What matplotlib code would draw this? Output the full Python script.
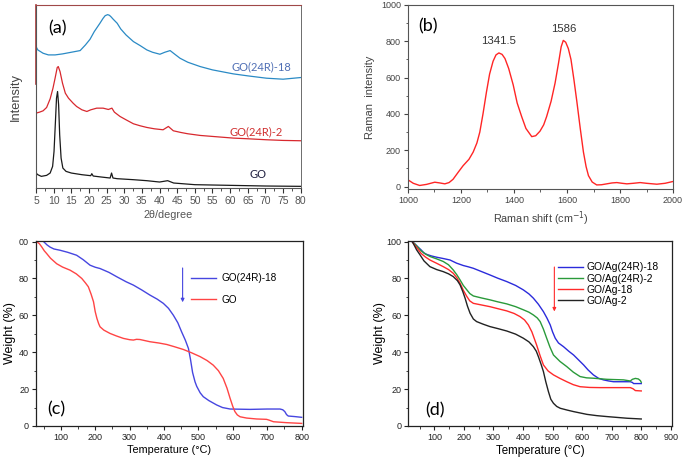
import matplotlib.pyplot as plt
from matplotlib.lines import Line2D
from matplotlib.ticker import MultipleLocator

plt.rcParams['font.family'] = ['Liberation Sans', 'DejaVu Sans']

# (a) XRD
xrd_2theta_go24r18 = [5.0, 5.5, 7, 8.5, 10.4, 12.5, 15, 17.5, 19, 20.3, 21.5, 23.1, 24, 24.6, 25.3, 25.8, 26.3,
                      26.8, 28, 29, 30.5, 32.6, 34.5, 36.4, 38, 40.1, 41.5, 43, 44.2, 45.8, 48, 51.5, 55, 60.9,
                      65, 70.3, 75, 80]
xrd_int_go24r18 = [425, 415, 405, 400, 400, 403, 408, 413, 430, 447, 470, 495, 510, 518, 521, 519, 514,
                   508, 495, 478, 460, 440, 428, 415, 408, 402, 408, 413, 403, 390, 378, 365, 355, 343,
                   337, 330, 327, 332]

xrd_2theta_go24r2 = [5.0, 6, 7, 8, 9, 9.8, 10.4, 11, 11.3, 11.8, 12.5, 13.3, 14.2, 15.5, 16.5, 18, 19.4, 20.5,
                     22.2, 24, 25.5, 26.5, 27.2, 28.8, 30.5, 32.6, 34.5, 36.4, 38.5, 41, 42.5, 43.9, 46, 48,
                     51.5, 55, 60.9, 65, 70.3, 75, 80]
xrd_int_go24r2 = [225, 228, 232, 242, 268, 300, 330, 362, 365, 350, 315, 285, 270, 255, 245, 235, 230, 235,
                  240, 240, 236, 240, 228, 215, 205, 193, 187, 182, 178, 175, 185, 172, 167, 163,
                  158, 155, 150, 148, 145, 143, 142]

xrd_2theta_go = [5.0, 5.5, 6.5, 8, 9, 9.7, 10.1, 10.5, 10.8, 11.1, 11.4, 11.7, 12.1, 12.6, 13.5, 15, 18, 20.5,
                 20.8, 21.2, 23.5, 26, 26.4, 26.8, 28, 32.6, 36.4, 40, 42.3, 44, 50, 60, 70, 80]
xrd_int_go = [45, 40, 35, 38, 45, 65, 110, 200, 270, 290, 250, 160, 90, 60, 50, 45, 40, 37,
              43, 36, 33, 30, 45, 30, 28, 25, 22, 18, 22, 15, 10, 8, 6, 5]

# (b) Raman
raman_shift = [1000, 1020, 1044, 1070, 1101, 1120, 1139, 1155, 1170, 1190, 1208, 1230, 1246, 1260, 1271, 1283,
               1296, 1308, 1321, 1332, 1343, 1355, 1366, 1380, 1397, 1412, 1429, 1445, 1467, 1482, 1498, 1512,
               1523, 1540, 1555, 1568, 1578, 1586, 1595, 1605, 1615, 1626, 1637, 1650, 1662, 1672, 1681, 1695,
               1712, 1730, 1750, 1770, 1788, 1808, 1826, 1850, 1876, 1900, 1939, 1970, 2000]
raman_int = [37, 18, 6, 12, 24, 20, 15, 22, 40, 80, 115, 150, 190, 240, 300, 400,
             520, 620, 690, 725, 736, 728, 705, 650, 560, 460, 385, 320, 275, 280, 305, 340,
             385, 470, 570, 680, 770, 805, 795, 760, 700, 590, 470, 320, 190, 110, 60, 25,
             9, 10, 15, 20, 22, 18, 15, 18, 22, 18, 13, 18, 28]

# (c) TGA
tga_c_temp_go24r18 = [50, 60, 69, 80, 98, 120, 146, 165, 185, 200, 214, 240, 263, 290, 311, 335, 359, 380, 398,
                      413, 427, 440, 451, 462, 471, 477, 483, 490, 495, 505, 514, 530, 553, 570, 592, 650, 700,
                      737, 745, 751, 756, 761, 780, 800]
tga_c_w_go24r18 = [100, 98.2, 97, 96, 95.3, 94.2, 92.6, 90.2, 87.2, 86.1, 85.4, 83.3, 80.9, 78.2, 76.4, 73.8,
                   71, 68.8, 66.5, 63.8, 60.1, 56, 51.1, 46.5, 42, 36, 29, 24, 21.5, 18, 15.9, 13.8, 11.4, 10,
                   9.2, 9, 9.2, 9.2, 8.8, 7.8, 6.2, 5.4, 5.1, 4.7]
tga_c_temp_go = [30, 38, 45, 52, 59, 70, 88, 105, 127, 145, 161, 172, 180, 188, 195, 200, 205, 210, 214, 225,
                 243, 262, 282, 300, 311, 320, 330, 359, 385, 408, 430, 456, 480, 505, 525, 543, 558, 572, 583,
                 592, 600, 606, 613, 621, 640, 669, 698, 705, 718, 756, 800]
tga_c_w_go = [100, 98.8, 97, 95, 93.5, 91, 88, 86.2, 84.5, 82.5, 80, 77.5, 75.5, 71.5, 67.4, 62, 58.3, 55.5,
              53.8, 52, 50.2, 48.8, 47.5, 46.8, 46.6, 47, 46.9, 45.7, 45, 44.2, 43, 41.5, 39.7, 37.6, 35.5,
              33, 30, 25.8, 20.5, 15, 10.5, 7.8, 6, 5, 4.3, 3.8, 3.6, 3.2, 2.3, 1.8, 1.4]

# (d) TGA
tga_d_temp_ag24r18 = [25, 35, 45, 55, 65, 75, 90, 108, 130, 153, 175, 198, 215, 232, 260, 288, 315, 345, 375,
                      401, 420, 435, 452, 469, 481, 492, 500, 509, 520, 537, 555, 571, 588, 605, 620, 638, 655,
                      672, 690, 706, 740, 763, 770, 774, 800]
tga_d_w_ag24r18 = [100, 98.6, 97, 95.5, 93.8, 93, 92.2, 91.5, 90.8, 90, 88.3, 87, 86.3, 85.5, 83.7, 81.9,
                   80.1, 78.3, 76.2, 73.8, 71.6, 69.3, 66, 62, 58.5, 54.8, 51, 47.6, 45, 43, 40.5, 38.5,
                   35.8, 33.1, 30.4, 27.7, 25.9, 25, 24.4, 24, 24, 24, 23.6, 23, 23]
tga_d_temp_ag24r2 = [25, 35, 45, 55, 70, 85, 108, 130, 148, 164, 176, 187, 198, 210, 220, 232, 260, 288, 315,
                     345, 375, 401, 420, 435, 448, 458, 469, 480, 491, 503, 525, 548, 570, 593, 615, 638, 684,
                     740, 763, 770, 780, 790, 797, 800]
tga_d_w_ag24r2 = [100, 98.5, 96.8, 95, 93.2, 91.9, 90.6, 89.2, 87.4, 84.6, 82, 79.2, 76.2, 73.8, 71.8, 70.5,
                  69.4, 68.4, 67.3, 66.2, 64.7, 63, 61.7, 60.2, 58.6, 56.6, 52.5, 47.6, 42.8, 38.5, 35, 32.2,
                  29.2, 26.8, 26.1, 25.9, 25.3, 25, 24.4, 25.3, 25.8, 25.5, 24.6, 23.7]
tga_d_temp_ag18 = [25, 35, 45, 55, 70, 85, 108, 130, 148, 164, 176, 187, 198, 210, 220, 232, 260, 288, 315,
                   345, 370, 390, 405, 418, 430, 446, 458, 469, 485, 503, 525, 548, 570, 593, 625, 661, 763,
                   772, 780, 800]
tga_d_w_ag18 = [100, 97.8, 95.8, 93.6, 91.6, 90, 88.2, 86.4, 84.8, 82.8, 80.4, 77.4, 73.6, 70.2, 67.8, 66.5,
                65.6, 64.7, 63.6, 62.4, 61, 59.3, 57.5, 54.8, 51, 43.9, 38, 33.1, 29.8, 27.7, 25.8, 24,
                22.4, 21.3, 20.9, 20.8, 20.8, 20.2, 19.2, 19]
tga_d_temp_ag2 = [25, 32, 40, 51.5, 65, 85, 108, 130, 148, 164, 178, 187, 196, 204, 212, 221, 232, 243, 265,
                  288, 315, 345, 375, 401, 420, 435, 445, 452, 461, 469, 477, 486, 494, 503, 514, 526, 550,
                  571, 616, 650, 684, 752, 800]
tga_d_w_ag2 = [100, 98, 95.5, 92.8, 89.5, 86.4, 84.8, 83.7, 82.5, 81, 78.8, 76.5, 73, 69.3, 65, 61.1, 58,
               56.6, 55.2, 53.9, 52.8, 51.5, 49.8, 47.6, 45.6, 43, 40.5, 37.6, 33.5, 29.5, 24, 18.6, 14.5,
               12.3, 10.6, 9.6, 8.6, 7.8, 6.3, 5.6, 5.1, 4.2, 3.8]

fig = plt.figure(figsize=(6.85, 4.58), dpi=100)

# ---------- (a) ----------
ax = fig.add_axes([0.0526, 0.5895, 0.3864, 0.3996])
ax.plot(xrd_2theta_go24r18, xrd_int_go24r18, color='#2a8ac5', lw=0.9)
ax.plot(xrd_2theta_go24r2, xrd_int_go24r2, color='#d8282e', lw=0.9)
ax.plot(xrd_2theta_go, xrd_int_go, color='#1a1a1a', lw=0.9)
ax.set_xlim(5, 80)
ax.set_ylim(0, 550)
ax.xaxis.set_major_locator(MultipleLocator(5))
ax.xaxis.set_minor_locator(MultipleLocator(2.5))
ax.set_yticks([])
ax.tick_params(axis='x', which='both', direction='out', colors='#333333', labelcolor='#555555',
               labelsize=7.5, pad=2)
ax.tick_params(axis='x', which='major', length=3.5)
ax.tick_params(axis='x', which='minor', length=2)
for s in ['bottom', 'right', 'left']:
    ax.spines[s].set_color('#555555')
ax.spines['right'].set_linewidth(0.6)
ax.spines['top'].set_color('#a04848')
ax.plot([0, 0], [0.57, 1], transform=ax.transAxes, color='#b03a3a', lw=1.2, clip_on=False)
ax.set_xlabel('2θ/degree', fontsize=7.8, color='#555555', labelpad=3)
ax.set_ylabel('Intensity', fontsize=9.3, color='#444444', labelpad=10)
ax.text(11, 480, '(a)', fontsize=13, ha='center', va='center', family='Lato')
ax.text(68.9, 365, 'GO(24R)-18', fontsize=8, color='#4f6fb5', ha='center', va='center', family='Lato')
ax.text(67.5, 170, 'GO(24R)-2', fontsize=8, color='#d03030', ha='center', va='center', family='Lato')
ax.text(68, 40, 'GO', fontsize=8, color='#202040', ha='center', va='center', family='Lato')

# ---------- (b) ----------
ax = fig.add_axes([0.5956, 0.5867, 0.3869, 0.4024])
ax.plot(raman_shift, raman_int, color='#ff2525', lw=1.0)
ax.set_xlim(1000, 2000)
ax.set_ylim(-15, 1000)
ax.xaxis.set_major_locator(MultipleLocator(200))
ax.xaxis.set_minor_locator(MultipleLocator(100))
ax.yaxis.set_major_locator(MultipleLocator(200))
ax.yaxis.set_minor_locator(MultipleLocator(100))
ax.tick_params(which='both', direction='out', colors='#444444', labelsize=6.5, pad=2)
ax.tick_params(which='major', length=3)
ax.tick_params(which='minor', length=1.8)
for s in ax.spines.values():
    s.set_color('#555555')
    s.set_linewidth(0.8)
ax.set_xlabel('Raman shift (cm$^{-1}$)', fontsize=7.8, color='#444444', labelpad=3)
ax.set_ylabel('Raman  intensity', fontsize=8, color='#444444', labelpad=4)
ax.text(1076, 881, '(b)', fontsize=13, ha='center', va='center', family='Lato')
ax.text(1343, 800, '1341.5', fontsize=8.2, color='#333333', ha='center', va='center')
ax.text(1589, 870, '1586', fontsize=8.2, color='#333333', ha='center', va='center')

# ---------- (c) ----------
ax = fig.add_axes([0.0526, 0.0699, 0.3893, 0.4046])
ax.plot(tga_c_temp_go24r18, tga_c_w_go24r18, color='#4646e0', lw=1.0)
ax.plot(tga_c_temp_go, tga_c_w_go, color='#ff4444', lw=1.0)
ax.set_xlim(28, 803)
ax.set_ylim(0, 100.5)
ax.xaxis.set_major_locator(MultipleLocator(100))
ax.xaxis.set_minor_locator(MultipleLocator(50))
ax.set_yticks([0, 20, 40, 60, 80, 100])
ax.set_yticklabels(['0', '20', '40', '60', '80', '00'])
ax.yaxis.set_minor_locator(MultipleLocator(10))
ax.tick_params(which='both', direction='out', colors='#222222', labelsize=6.5, pad=2)
ax.tick_params(which='major', length=3)
ax.tick_params(which='minor', length=1.8)
for s in ax.spines.values():
    s.set_color('#222222')
    s.set_linewidth(0.9)
ax.set_xlabel('Temperature (°C)', fontsize=7.8, labelpad=2)
ax.set_ylabel('Weight (%)', fontsize=9, labelpad=2)
ax.text(88, 9, '(c)', fontsize=13, ha='center', va='center', family='Lato')
ax.annotate('', xy=(454, 65.6), xytext=(454, 87.2),
            arrowprops=dict(arrowstyle='-|>', color='#4646e0', lw=0.8, mutation_scale=5))
handles = [Line2D([], [], color='#4646e0', lw=1.0), Line2D([], [], color='#ff4444', lw=1.0)]
ax.legend(handles, ['GO(24R)-18', 'GO'], loc='upper left', bbox_to_anchor=(0.583, 0.825), frameon=False,
          fontsize=7.2, handlelength=2.5, handletextpad=0.5, labelspacing=1.18, borderpad=0,
          borderaxespad=0)

# ---------- (d) ----------
ax = fig.add_axes([0.5961, 0.0699, 0.3845, 0.4039])
ax.plot(tga_d_temp_ag24r18, tga_d_w_ag24r18, color='#2b2bdb', lw=1.0, label='GO/Ag(24R)-18')
ax.plot(tga_d_temp_ag24r2, tga_d_w_ag24r2, color='#2a9a3a', lw=1.0, label='GO/Ag(24R)-2')
ax.plot(tga_d_temp_ag18, tga_d_w_ag18, color='#ff2a2a', lw=1.0, label='GO/Ag-18')
ax.plot(tga_d_temp_ag2, tga_d_w_ag2, color='#222222', lw=1.0, label='GO/Ag-2')
ax.set_xlim(12, 903)
ax.set_ylim(0, 100.3)
ax.xaxis.set_minor_locator(MultipleLocator(50))
ax.yaxis.set_major_locator(MultipleLocator(20))
ax.yaxis.set_minor_locator(MultipleLocator(10))
ax.set_xticks([100, 200, 300, 400, 500, 600, 700, 800, 900])
ax.tick_params(which='both', direction='out', colors='#222222', labelsize=6.5, pad=2)
ax.tick_params(which='major', length=3)
ax.tick_params(which='minor', length=1.8)
for s in ax.spines.values():
    s.set_color('#222222')
    s.set_linewidth(0.9)
ax.set_xlabel('Temperature (°C)', fontsize=8.3, labelpad=2)
ax.set_ylabel('Weight (%)', fontsize=9, labelpad=0)
ax.text(102, 8.7, '(d)', fontsize=13, ha='center', va='center', family='Lato')
ax.annotate('', xy=(506, 60.6), xytext=(506, 87.7),
            arrowprops=dict(arrowstyle='-|>', color='#ff2a2a', lw=0.8, mutation_scale=5))
ax.legend(loc='upper left', bbox_to_anchor=(0.57, 0.885), frameon=False, fontsize=7.4,
          handlelength=2.4, handletextpad=0.3, labelspacing=0.12, borderpad=0, borderaxespad=0)

fig.savefig('out.png', dpi=100)
